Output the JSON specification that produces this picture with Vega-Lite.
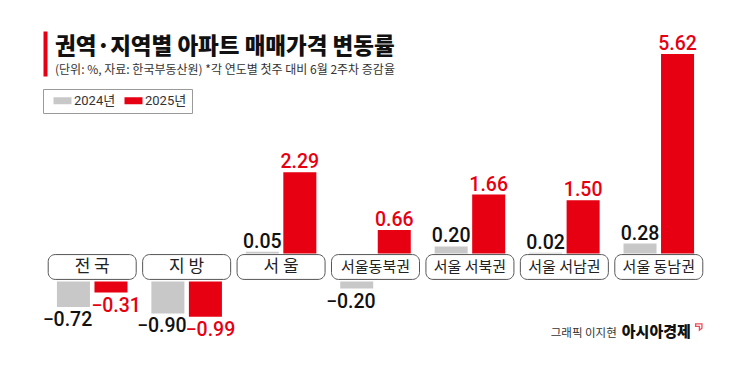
{
  "$schema": "https://vega.github.io/schema/vega-lite/v6.json",
  "width": 661,
  "height": 372,
  "autosize": {"type": "none"},
  "padding": {"left": 45, "top": 0, "right": 39, "bottom": 0},
  "background": "white",
  "config": {"view": {"stroke": null}, "font": "Noto Sans CJK KR"},
  "title": {
    "text": "권역·지역별 아파트 매매가격 변동률",
    "subtitle": "(단위: %, 자료: 한국부동산원)  *각 연도별 첫주 대비 6월 2주차 증감율",
    "anchor": "start",
    "frame": "group",
    "orient": "top",
    "offset": -76,
    "dx": 10,
    "font": "Noto Sans CJK KR",
    "fontSize": 22.5,
    "fontWeight": 900,
    "color": "#111111",
    "subtitleFont": "Noto Sans CJK KR",
    "subtitleFontSize": 12,
    "subtitleColor": "#333333",
    "subtitlePadding": 7
  },
  "data": {
    "values": [
      {"region": "전 국", "year": "2024년", "value": -0.72},
      {"region": "전 국", "year": "2025년", "value": -0.31},
      {"region": "지 방", "year": "2024년", "value": -0.90},
      {"region": "지 방", "year": "2025년", "value": -0.99},
      {"region": "서 울", "year": "2024년", "value": 0.05},
      {"region": "서 울", "year": "2025년", "value": 2.29},
      {"region": "서울동북권", "year": "2024년", "value": -0.20},
      {"region": "서울동북권", "year": "2025년", "value": 0.66},
      {"region": "서울 서북권", "year": "2024년", "value": 0.20},
      {"region": "서울 서북권", "year": "2025년", "value": 1.66},
      {"region": "서울 서남권", "year": "2024년", "value": 0.02},
      {"region": "서울 서남권", "year": "2025년", "value": 1.50},
      {"region": "서울 동남권", "year": "2024년", "value": 0.28},
      {"region": "서울 동남권", "year": "2025년", "value": 5.62}
    ]
  },
  "layer": [
    {
      "encoding": {
        "x": {
          "field": "region",
          "type": "nominal",
          "sort": null,
          "scale": {
            "domain": ["전 국", "지 방", "서 울", "서울동북권", "서울 서북권", "서울 서남권", "서울 동남권"],
            "paddingInner": 0,
            "paddingOuter": 0
          },
          "axis": null
        }
      },
      "layer": [
        {
          "transform": [{"filter": "datum.value >= 0"}],
          "mark": {"type": "bar"},
          "encoding": {
            "xOffset": {"field": "year", "type": "nominal", "scale": {"domain": ["2024년", "2025년"], "paddingInner": 0.12, "paddingOuter": 0.318}},
            "y": {"field": "value", "type": "quantitative", "scale": {"domain": [-3.338, 7.141], "nice": false}, "axis": null},
            "y2": {"datum": 0},
            "color": {
              "field": "year",
              "type": "nominal",
              "scale": {"domain": ["2024년", "2025년"], "range": ["#c8c8c8", "#e60012"]},
              "legend": {
                "title": null,
                "orient": "none",
                "legendX": -2,
                "legendY": 89,
                "direction": "horizontal",
                "strokeColor": "#9a9a9a",
                "fillColor": "white",
                "padding": 5,
                "symbolType": "M-1.8,-0.7H1.8V0.7H-1.8Z",
                "symbolSize": 100,
                "symbolStrokeWidth": 0,
                "symbolOffset": 8,
                "labelOffset": 5,
                "columnPadding": 3,
                "labelFont": "Roboto, Noto Sans CJK KR, sans-serif",
                "labelFontSize": 13,
                "labelColor": "#333333"
              }
            }
          }
        },
        {
          "transform": [{"filter": "datum.value < 0"}],
          "mark": {"type": "bar", "yOffset": 28, "y2Offset": 28},
          "encoding": {
            "xOffset": {"field": "year", "type": "nominal"},
            "y": {"field": "value", "type": "quantitative"},
            "y2": {"datum": 0},
            "color": {"field": "year", "type": "nominal"}
          }
        },
        {
          "transform": [{"filter": "datum.value >= 0"}],
          "mark": {"type": "text", "dy": -4, "baseline": "alphabetic", "fontSize": 19.5, "fontWeight": 500, "font": "Roboto, sans-serif"},
          "encoding": {
            "xOffset": {"field": "year", "type": "nominal"},
            "y": {"field": "value", "type": "quantitative"},
            "text": {"field": "value", "type": "quantitative", "format": ".2f"},
            "color": {"condition": {"test": "datum.year === '2025년'", "value": "#e60012"}, "value": "#111111"}
          }
        },
        {
          "transform": [{"filter": "datum.value < 0 && datum.year === '2024년'"}],
          "mark": {"type": "text", "yOffset": 32, "dx": -6, "baseline": "top", "fontSize": 19.5, "fontWeight": 500, "color": "#111111", "font": "Roboto, sans-serif"},
          "encoding": {
            "xOffset": {"field": "year", "type": "nominal"},
            "y": {"field": "value", "type": "quantitative"},
            "text": {"field": "value", "type": "quantitative", "format": ".2f"}
          }
        },
        {
          "transform": [{"filter": "datum.value < 0 && datum.year === '2025년'"}],
          "mark": {"type": "text", "yOffset": 32, "dx": 5, "baseline": "top", "fontSize": 19.5, "fontWeight": 500, "color": "#e60012", "font": "Roboto, sans-serif"},
          "encoding": {
            "xOffset": {"field": "year", "type": "nominal"},
            "y": {"field": "value", "type": "quantitative"},
            "text": {"field": "value", "type": "quantitative", "format": ".2f"}
          }
        },
        {
          "transform": [{"filter": "datum.year === '2024년'"}],
          "mark": {"type": "bar", "width": {"band": 0.932}, "cornerRadius": 7, "fill": "white", "stroke": "#555555", "strokeWidth": 1},
          "encoding": {
            "y": {"datum": -0.03},
            "y2": {"datum": -0.73}
          }
        },
        {
          "transform": [{"filter": "datum.year === '2024년'"}],
          "mark": {"type": "text", "baseline": "middle", "font": "Noto Sans CJK KR", "color": "#222222"},
          "encoding": {
            "y": {"datum": -0.38},
            "text": {"field": "region"},
            "size": {"condition": {"test": "length(datum.region) <= 3", "value": 17}, "value": 15}
          }
        },
        {
          "data": {"values": [{"credit": "그래픽 이지현"}]},
          "mark": {"type": "text", "align": "right", "baseline": "alphabetic", "dx": -42, "fontSize": 11.5, "color": "#333333", "font": "Noto Sans CJK KR"},
          "encoding": {
            "x": {"datum": "서울 동남권"},
            "y": {"datum": -2.35},
            "text": {"field": "credit"}
          }
        },
        {
          "data": {"values": [{"credit": "아시아경제"}]},
          "mark": {"type": "text", "align": "left", "baseline": "alphabetic", "dx": -37, "fontSize": 15, "fontWeight": 900, "color": "#111111", "font": "Noto Sans CJK KR"},
          "encoding": {
            "x": {"datum": "서울 동남권"},
            "y": {"datum": -2.35},
            "text": {"field": "credit"}
          }
        },
        {
          "data": {"values": [{"credit": "flag"}]},
          "mark": {"type": "point", "shape": "M-1,-1H1V0.4L0.2,1V-0.2H-1Z", "size": 40, "filled": false, "stroke": "#e60012", "strokeWidth": 1.3, "xOffset": 40},
          "encoding": {
            "x": {"datum": "서울 동남권"},
            "y": {"datum": -2.07}
          }
        }
      ]
    },
    {
      "mark": {"type": "rule", "opacity": 0},
      "encoding": {
        "y": {
          "datum": 0,
          "scale": {"domain": [0, 1], "range": [76, 31]},
          "axis": {"orient": "left", "offset": 0, "domainColor": "#e60012", "domainWidth": 4, "domainCap": "butt", "ticks": false, "labels": false, "grid": false, "title": null}
        }
      }
    }
  ],
  "resolve": {"scale": {"y": "independent"}, "axis": {"y": "independent"}}
}
